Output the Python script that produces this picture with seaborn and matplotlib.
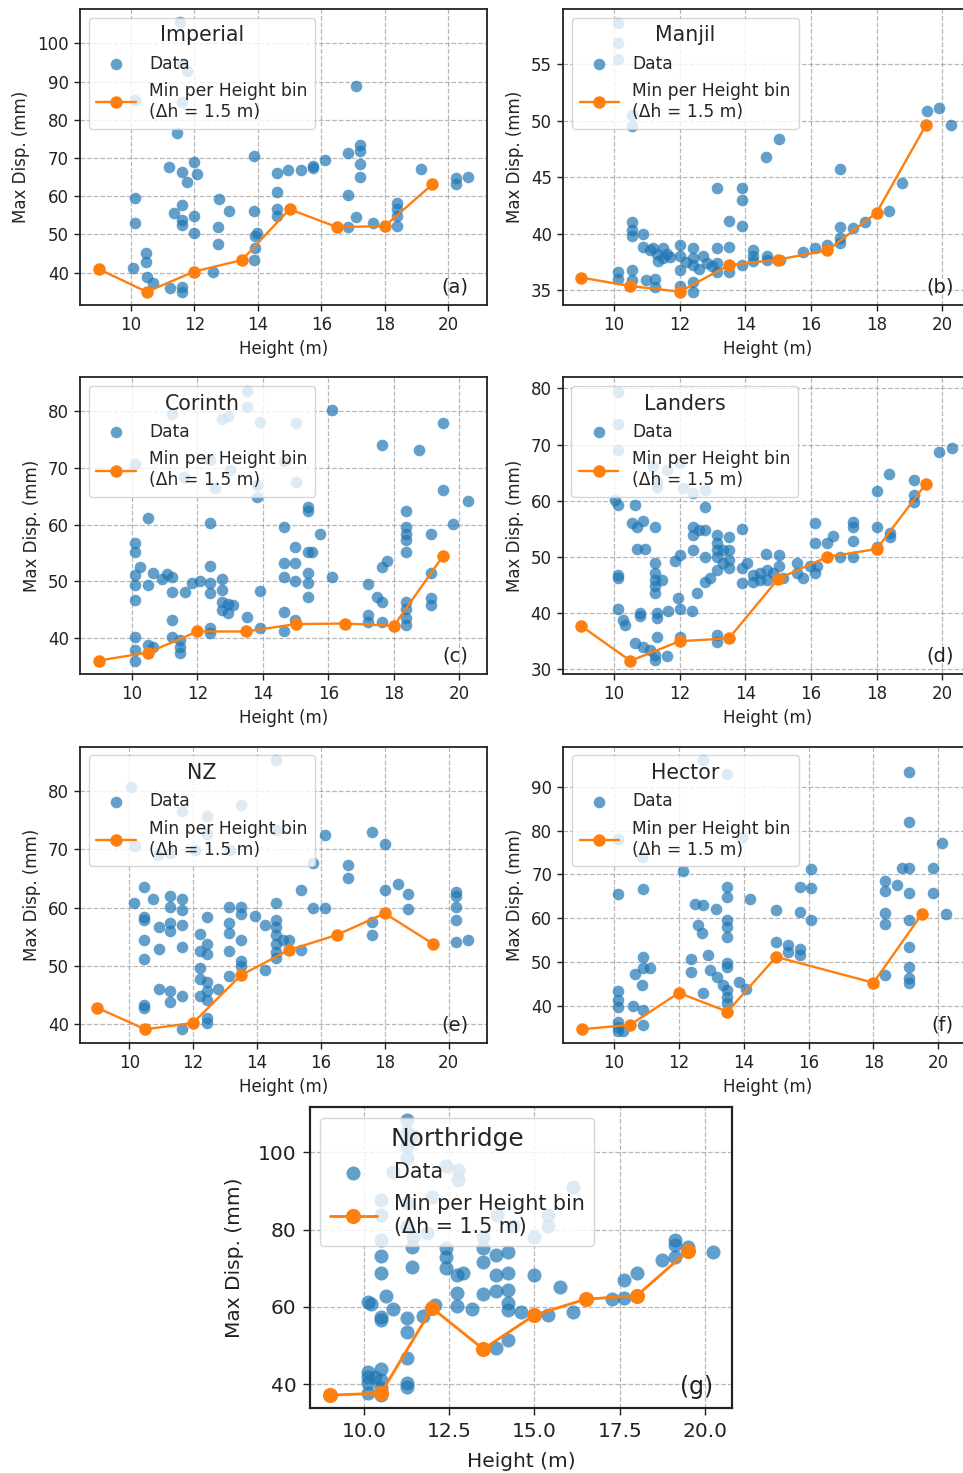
import matplotlib
matplotlib.use("Agg")
import matplotlib.pyplot as plt
import seaborn as sns
import pandas as pd

sns.set_theme(style="white")
plt.rcParams['font.family'] = ['DejaVu Sans']

# ---------------- data ----------------
BIN_H = [9.0, 10.5, 12.0, 13.5, 15.0, 16.5, 18.0, 19.5]
BIN_H_HECTOR = [9.0, 10.5, 12.0, 13.5, 15.0, 18.0, 19.5]

IMPERIAL_PTS = [(11.55, 105.7), (11.6, 94.8), (11.78, 92.8), (10.14, 85.2), (11.6, 84.7), (17.09, 88.8),
                (11.47, 76.5), (11.19, 67.7), (11.6, 66.4), (11.78, 63.6), (12.0, 69.0), (12.08, 65.8),
                (10.14, 59.5), (10.12, 52.9), (11.37, 55.5), (11.6, 57.7), (11.6, 53.8), (11.6, 52.5),
                (12.0, 54.8), (12.0, 50.3), (12.79, 59.3), (13.1, 56.1), (12.74, 52.0), (12.74, 47.4),
                (12.58, 40.3), (10.08, 41.2), (10.48, 45.1), (10.48, 42.9), (10.5, 39.0), (10.71, 37.4),
                (11.24, 35.9), (11.6, 36.2), (11.6, 35.0), (13.88, 70.5), (13.88, 56.2), (13.91, 49.6),
                (13.91, 46.4), (13.88, 43.3), (13.97, 50.3), (14.6, 66.0), (14.6, 61.0), (14.6, 56.6),
                (14.6, 54.8), (14.96, 66.9), (15.35, 66.9), (15.75, 68.0), (15.75, 67.3), (16.12, 69.5),
                (16.85, 71.2), (17.22, 73.4), (17.22, 71.7), (17.22, 68.4), (17.22, 65.0), (16.85, 60.3),
                (17.09, 54.5), (16.85, 52.0), (17.64, 53.1), (18.37, 58.2), (18.37, 56.6), (18.37, 54.8),
                (18.37, 52.2), (19.13, 67.1), (20.24, 64.7), (20.24, 63.1), (20.63, 64.9)]
IMPERIAL_MIN = [40.9, 35.0, 40.3, 43.3, 56.6, 51.9, 52.2, 63.1]

MANJIL_PTS = [(10.13, 58.7), (10.13, 56.9), (10.13, 55.5), (10.54, 50.5), (10.54, 49.5), (19.52, 50.9),
              (19.91, 51.1), (20.26, 49.6), (14.63, 46.8), (15.04, 48.4), (16.88, 45.7), (18.76, 44.5),
              (18.39, 42.0), (13.13, 44.0), (13.89, 44.0), (13.89, 43.0), (13.51, 41.1), (13.89, 40.7),
              (16.88, 40.6), (16.88, 39.6), (17.29, 40.5), (17.64, 41.0), (10.54, 41.0), (10.54, 40.3),
              (10.54, 39.8), (10.89, 40.0), (10.89, 38.8), (11.2, 38.7), (11.3, 38.2), (11.5, 38.7),
              (11.5, 37.8), (11.6, 38.2), (12.01, 39.0), (12.01, 38.0), (12.01, 36.8), (12.42, 38.7),
              (12.42, 37.8), (12.42, 37.2), (12.72, 38.0), (12.82, 37.4), (13.13, 38.7), (13.13, 37.4),
              (13.13, 36.6), (13.51, 38.8), (13.51, 36.6), (13.89, 37.2), (14.24, 38.5), (14.24, 38.0),
              (14.65, 38.0), (14.65, 37.7), (15.06, 37.7), (15.77, 38.4), (16.12, 38.7), (16.5, 39.0),
              (10.13, 36.6), (10.13, 36.0), (10.54, 36.8), (10.54, 35.9), (10.99, 35.9), (11.25, 36.0),
              (11.25, 35.3), (12.01, 35.35), (12.42, 35.7), (12.42, 34.8), (11.1, 38.5), (11.35, 37.6),
              (11.7, 37.9), (12.2, 37.5), (12.6, 36.9), (13.0, 37.1), (16.9, 39.2), (14.24, 37.6)]
MANJIL_MIN = [36.1, 35.35, 34.85, 37.2, 37.7, 38.5, 41.85, 49.6]

CORINTH_PTS = [(13.51, 83.5), (13.51, 80.6), (11.22, 79.5), (12.75, 78.5), (12.95, 79.0), (13.9, 78.1),
               (15.0, 77.8), (10.1, 70.6), (12.39, 71.3), (14.63, 71.2), (11.58, 68.4), (13.0, 69.6),
               (12.54, 66.4), (13.81, 66.9), (15.0, 67.5), (13.81, 64.9), (16.1, 80.1), (17.63, 74.0),
               (18.75, 73.1), (19.49, 77.8), (19.49, 66.1), (20.25, 64.1), (19.8, 60.1), (19.12, 58.3),
               (19.12, 51.4), (19.12, 47.0), (19.12, 45.9), (18.37, 62.3), (18.37, 59.6), (18.37, 58.4),
               (18.37, 57.3), (18.37, 55.2), (18.37, 46.4), (18.37, 45.1), (18.37, 43.5), (18.37, 42.3),
               (17.78, 53.6), (17.63, 52.6), (17.22, 49.5), (17.48, 47.3), (17.63, 46.4), (17.22, 44.1),
               (17.22, 42.8), (17.63, 42.8), (15.75, 58.4), (15.39, 63.1), (15.39, 62.3), (15.39, 55.1),
               (15.49, 55.1), (15.39, 51.4), (15.39, 49.7), (15.39, 47.3), (14.98, 56.1), (14.98, 53.3),
               (14.98, 50.1), (14.63, 59.6), (14.63, 53.2), (14.63, 50.7), (14.63, 44.7), (14.63, 41.2),
               (14.98, 43.2), (16.1, 50.8), (13.9, 48.4), (13.9, 41.8), (13.51, 43.8), (12.39, 60.3),
               (12.39, 52.7), (12.39, 49.7), (12.39, 47.9), (12.39, 41.8), (12.39, 40.9), (12.75, 50.5),
               (12.75, 48.5), (12.75, 46.4), (12.75, 45.0), (12.95, 46.1), (12.95, 44.4), (13.1, 45.9),
               (12.09, 50.1), (11.83, 49.8), (11.63, 48.2), (11.22, 48.2), (11.07, 51.3), (11.22, 50.8),
               (10.66, 51.4), (10.92, 50.4), (10.25, 52.6), (10.49, 49.4), (10.1, 56.7), (10.1, 55.2),
               (10.1, 51.1), (10.1, 49.4), (10.1, 46.7), (10.49, 61.2), (10.1, 40.3), (10.1, 38.0),
               (10.1, 36.1), (10.49, 38.8), (10.66, 38.5), (11.22, 43.2), (11.22, 40.3), (11.48, 39.7),
               (11.48, 38.5), (11.48, 37.4)]
CORINTH_MIN = [36.1, 37.5, 41.2, 41.2, 42.5, 42.6, 42.2, 54.5]

LANDERS_PTS = [(10.13, 79.4), (10.13, 73.6), (10.13, 69.0), (11.2, 66.1), (11.6, 65.5), (11.3, 63.4),
               (11.3, 62.5), (12.0, 66.7), (12.77, 61.9), (12.1, 62.2), (10.03, 60.1), (10.13, 59.2),
               (10.64, 59.2), (10.54, 56.0), (10.69, 55.4), (10.89, 56.4), (11.25, 55.4), (10.69, 51.4),
               (10.94, 51.4), (10.13, 46.8), (10.13, 46.2), (10.13, 40.7), (10.28, 38.8), (10.33, 37.9),
               (10.79, 40.1), (10.79, 39.5), (10.64, 34.6), (10.89, 34.0), (11.1, 33.4), (11.25, 32.5),
               (11.25, 31.7), (11.6, 32.4), (11.3, 35.7), (11.3, 39.1), (11.3, 40.0), (11.25, 48.9),
               (11.25, 47.1), (11.25, 45.9), (11.25, 44.8), (11.25, 43.6), (11.45, 45.8), (11.65, 40.3),
               (11.96, 42.6), (12.0, 40.7), (12.37, 40.4), (12.0, 35.8), (11.86, 49.3), (12.0, 50.3),
               (12.4, 61.4), (12.4, 55.4), (12.4, 53.9), (12.4, 51.2), (12.6, 54.8), (12.77, 58.9),
               (12.77, 54.8), (12.77, 50.0), (12.52, 43.6), (12.77, 45.6), (12.92, 46.2), (13.13, 53.9),
               (13.13, 52.4), (13.13, 51.2), (13.13, 49.9), (13.13, 47.7), (13.33, 51.2), (13.51, 53.6),
               (13.51, 51.2), (13.51, 49.5), (13.51, 48.0), (13.33, 48.9), (13.13, 36.1), (13.13, 34.9),
               (13.89, 54.9), (13.89, 48.0), (13.89, 45.3), (14.04, 48.9), (14.24, 46.8), (14.24, 45.6),
               (14.45, 47.1), (14.45, 45.9), (14.63, 50.6), (14.65, 47.7), (14.65, 45.9), (14.85, 47.1),
               (15.04, 50.3), (15.04, 48.3), (15.16, 46.2), (15.56, 48.9), (15.56, 47.1), (15.77, 46.2),
               (15.97, 48.3), (16.12, 47.1), (16.17, 48.3), (16.12, 56.1), (16.12, 52.5), (16.48, 52.4),
               (16.68, 53.8), (16.88, 50.0), (17.29, 56.2), (17.29, 55.4), (17.29, 52.9), (17.29, 49.9),
               (18.0, 61.8), (18.0, 55.3), (18.0, 51.8), (18.39, 64.8), (18.41, 54.2), (18.41, 53.6),
               (19.14, 63.6), (19.14, 61.0), (19.14, 59.8), (19.91, 68.7), (20.28, 69.3)]
LANDERS_MIN = [37.7, 31.5, 35.0, 35.5, 46.1, 50.0, 51.4, 63.0]

NZ_PTS = [(10.07, 80.7), (10.18, 70.6), (11.64, 76.5), (12.42, 75.7), (12.42, 72.7), (13.51, 77.6),
          (14.6, 85.3), (14.6, 73.3), (10.9, 69.0), (11.27, 69.3), (12.05, 69.9), (13.15, 69.9),
          (15.76, 67.6), (16.12, 72.4), (17.61, 73.0), (18.0, 70.9), (16.85, 67.3), (16.85, 65.1),
          (15.37, 63.0), (15.76, 59.9), (16.12, 59.9), (18.0, 63.0), (18.42, 64.0), (18.73, 62.3),
          (18.73, 59.7), (17.61, 57.6), (17.61, 55.3), (20.22, 62.6), (20.22, 61.9), (20.22, 60.1),
          (20.22, 57.9), (20.22, 54.0), (20.6, 54.4), (15.37, 52.7), (15.0, 54.4), (14.6, 60.7),
          (14.6, 57.9), (14.6, 56.7), (14.6, 55.3), (14.6, 53.8), (14.6, 52.4), (14.6, 51.3),
          (14.82, 54.4), (14.24, 57.0), (14.24, 49.3), (13.93, 58.5), (13.51, 60.1), (13.51, 58.9),
          (13.51, 54.4), (13.51, 50.9), (13.51, 49.9), (13.13, 60.1), (13.13, 57.4), (13.13, 55.7),
          (13.13, 52.6), (13.13, 48.2), (12.78, 46.0), (12.42, 58.4), (12.42, 53.8), (12.42, 52.1),
          (12.42, 47.3), (12.42, 45.6), (12.42, 44.1), (12.42, 41.0), (12.42, 40.1), (12.21, 55.5),
          (12.21, 52.6), (12.21, 49.6), (12.21, 47.8), (12.21, 44.8), (11.64, 61.4), (11.64, 59.6),
          (11.64, 57.0), (11.64, 53.3), (11.64, 44.8), (11.64, 39.1), (11.27, 62.0), (11.27, 60.1),
          (11.27, 57.3), (11.27, 55.9), (11.27, 45.6), (11.27, 43.8), (10.94, 46.1), (10.94, 56.7),
          (10.94, 52.8), (10.75, 61.4), (10.46, 63.6), (10.46, 58.4), (10.46, 57.9), (10.46, 54.5),
          (10.46, 51.1), (10.46, 43.3), (10.46, 42.7), (10.16, 60.7)]
NZ_MIN = [42.8, 39.1, 40.2, 48.4, 52.7, 55.3, 59.0, 53.8]

HECTOR_PTS = [(12.75, 96.1), (13.49, 92.8), (10.13, 78.0), (10.85, 74.0), (13.94, 78.6), (19.11, 93.4),
              (19.11, 82.0), (20.1, 77.1), (18.87, 71.4), (19.11, 71.4), (19.85, 71.4), (18.36, 68.6),
              (18.36, 66.1), (18.74, 67.6), (19.11, 65.7), (19.85, 65.7), (18.36, 61.1), (18.36, 58.8),
              (19.11, 59.6), (20.24, 61.0), (19.11, 53.4), (19.11, 49.0), (19.11, 46.3), (19.11, 45.3),
              (18.36, 47.1), (16.09, 71.2), (16.09, 67.0), (15.73, 67.2), (15.73, 61.5), (16.09, 59.6),
              (15.0, 61.9), (15.0, 54.7), (15.37, 53.9), (15.37, 52.4), (15.73, 53.1), (15.73, 51.6),
              (14.19, 64.3), (13.86, 45.5), (14.07, 43.8), (13.5, 67.2), (13.5, 64.9), (13.5, 59.6),
              (13.5, 58.1), (13.5, 55.8), (13.5, 49.9), (13.5, 49.0), (13.5, 43.6), (13.5, 42.1),
              (13.5, 40.6), (13.37, 44.8), (13.17, 46.7), (12.96, 48.2), (12.91, 51.6), (12.75, 42.9),
              (13.15, 62.0), (12.75, 63.0), (12.5, 63.2), (12.6, 58.5), (12.7, 56.7), (12.39, 50.6),
              (12.39, 47.8), (12.14, 70.8), (10.88, 66.6), (10.13, 65.5), (10.88, 51.1), (10.88, 48.6),
              (11.11, 48.6), (10.65, 47.4), (10.85, 44.8), (10.6, 40.0), (10.88, 39.2), (10.88, 35.7),
              (10.13, 43.5), (10.13, 41.4), (10.13, 39.8), (10.13, 36.4), (10.13, 35.3), (10.13, 34.4),
              (10.29, 34.4)]
HECTOR_MIN = [34.7, 35.7, 43.0, 38.7, 51.2, 45.3, 61.0]

NORTHRIDGE_PTS = [(11.25, 108.4), (11.25, 105.3), (11.25, 101.5), (11.25, 98.4), (11.45, 104.1),
                  (12.4, 96.3), (12.77, 95.4), (12.77, 92.8), (12.01, 88.5), (10.86, 95.0), (10.5, 87.7),
                  (10.5, 83.8), (11.25, 86.8), (11.25, 80.8), (11.84, 79.1), (11.45, 78.2), (10.5, 77.3),
                  (13.5, 78.2), (13.89, 83.8), (15.41, 83.8), (15.41, 80.8), (16.12, 90.9), (15.0, 78.2),
                  (14.38, 80.8), (10.5, 73.2), (10.5, 68.7), (10.64, 62.8), (10.13, 61.4), (10.22, 60.8),
                  (10.5, 57.5), (10.5, 56.5), (10.86, 59.4), (11.25, 57.1), (11.25, 53.6), (11.25, 46.7),
                  (11.25, 40.4), (11.25, 39.4), (11.4, 75.6), (11.4, 70.4), (11.72, 57.7), (12.08, 60.5),
                  (12.4, 75.2), (12.4, 73.0), (12.4, 70.0), (12.74, 68.3), (12.74, 63.7), (12.74, 60.3),
                  (12.91, 68.9), (13.16, 59.4), (13.5, 71.5), (13.5, 63.4), (13.5, 75.2), (13.87, 73.4),
                  (13.87, 68.3), (13.87, 64.0), (13.87, 49.3), (14.23, 74.3), (14.23, 68.7), (14.23, 64.4),
                  (14.23, 60.9), (14.23, 59.2), (14.23, 51.5), (14.62, 58.8), (15.0, 68.3), (15.41, 57.9),
                  (15.75, 65.1), (16.12, 58.8), (17.26, 62.0), (17.62, 67.0), (17.62, 62.2), (18.0, 68.7),
                  (18.73, 72.2), (19.12, 77.3), (19.12, 76.0), (19.12, 73.0), (19.51, 75.6), (20.24, 74.3),
                  (10.13, 43.3), (10.13, 42.0), (10.13, 40.3), (10.13, 37.7), (10.32, 42.0), (10.5, 43.9),
                  (10.5, 41.1), (10.5, 39.0), (10.5, 37.2)]
NORTHRIDGE_MIN = [37.2, 37.7, 59.7, 49.1, 57.9, 62.0, 62.9, 74.5]

PANELS = [
    # name, points, bin heights, bin minima, letter
    ("Imperial", IMPERIAL_PTS, BIN_H, IMPERIAL_MIN, "(a)"),
    ("Manjil", MANJIL_PTS, BIN_H, MANJIL_MIN, "(b)"),
    ("Corinth", CORINTH_PTS, BIN_H, CORINTH_MIN, "(c)"),
    ("Landers", LANDERS_PTS, BIN_H, LANDERS_MIN, "(d)"),
    ("NZ", NZ_PTS, BIN_H, NZ_MIN, "(e)"),
    ("Hector", HECTOR_PTS, BIN_H_HECTOR, HECTOR_MIN, "(f)"),
    ("Northridge", NORTHRIDGE_PTS, BIN_H, NORTHRIDGE_MIN, "(g)"),
]

# ---------------- layout (pixel boxes: left, top, right, bottom) ----------------
W, H = 963, 1473
LAYOUT = [
    dict(box=(80, 9, 487, 305), xlim=(8.40, 21.22), ylim=(31.55, 108.97), xt=[10, 12, 14, 16, 18, 20],
         yt=[40, 50, 60, 70, 80, 90, 100], sc=1.0),
    dict(box=(563.3, 9, 972, 305), xlim=(8.456, 20.906), ylim=(33.67, 59.9), xt=[10, 12, 14, 16, 18, 20],
         yt=[35, 40, 45, 50, 55], sc=1.0),
    dict(box=(80, 377.3, 487, 674), xlim=(8.42, 20.84), ylim=(33.73, 85.87), xt=[10, 12, 14, 16, 18, 20],
         yt=[40, 50, 60, 70, 80], sc=1.0),
    dict(box=(562.7, 377.3, 972, 674), xlim=(8.437, 20.904), ylim=(29.16, 81.96), xt=[10, 12, 14, 16, 18, 20],
         yt=[30, 40, 50, 60, 70, 80], sc=1.0),
    dict(box=(80, 746.7, 487, 1043.3), xlim=(8.46, 21.2), ylim=(36.7, 87.6), xt=[10, 12, 14, 16, 18, 20],
         yt=[40, 50, 60, 70, 80], sc=1.0),
    dict(box=(563.3, 746.7, 972, 1043.3), xlim=(8.437, 21.04), ylim=(31.5, 99.1), xt=[10, 12, 14, 16, 18, 20],
         yt=[40, 50, 60, 70, 80, 90], sc=1.0),
    dict(box=(310, 1107.3, 732.3, 1408.3), xlim=(8.42, 20.8), ylim=(33.8, 111.6),
         xt=[10.0, 12.5, 15.0, 17.5, 20.0], yt=[40, 60, 80, 100], sc=1.21),
]

BLUE = "#1f77b4"
ORANGE = "#ff7f0e"
INK = "#222222"

fig = plt.figure(figsize=(W / 100, H / 100), dpi=100)
fig.patch.set_facecolor("white")

for (name, pts, bh, bmin, letter), lay in zip(PANELS, LAYOUT):
    l, t, r, b = lay["box"]
    sc = lay["sc"]
    big = sc > 1.1
    ax = fig.add_axes([l / W, 1 - b / H, (r - l) / W, (b - t) / H])
    df = pd.DataFrame(pts, columns=["h", "d"])
    sns.scatterplot(data=df, x="h", y="d", ax=ax, color=BLUE, alpha=0.7, s=70 * sc ** 2,
                    linewidth=0, label="Data", zorder=3)
    sns.lineplot(x=bh, y=bmin, ax=ax, color=ORANGE, marker="o", markersize=9 * sc,
                 markeredgewidth=0, linewidth=1.7 * sc, estimator=None, sort=False,
                 label="Min per Height bin\n(\u0394h = 1.5 m)", zorder=4)
    ax.set_xlim(*lay["xlim"])
    ax.set_ylim(*lay["ylim"])
    ax.set_xticks(lay["xt"])
    ax.set_yticks(lay["yt"])
    if big:
        ax.set_xticklabels([f"{v:.1f}" for v in lay["xt"]])
    ax.grid(True, linestyle="--", color="#888888", alpha=0.6, linewidth=0.9)
    ax.set_axisbelow(True)
    ax.tick_params(axis="both", which="major", bottom=True, left=True, direction="out",
                   length=4 * sc, width=1.0, labelsize=12 * sc, colors=INK,
                   pad=5 if big else 4)
    for sp in ax.spines.values():
        sp.set_color(INK)
        sp.set_linewidth(1.3 * sc)
    ax.set_xlabel("Height (m)", fontsize=12 * sc, color=INK, labelpad=8 if big else 4)
    ax.set_ylabel("Max Disp. (mm)", fontsize=12 * sc, color=INK, labelpad=10 if big else 5)
    leg = ax.legend(loc="upper left", title=name, fontsize=12.3 * sc, title_fontsize=14.8 * sc,
                    framealpha=0.8, frameon=True, borderaxespad=0.5, handlelength=2.3,
                    labelspacing=0.55, borderpad=0.45)
    leg.get_frame().set_edgecolor("#cccccc")
    leg.set_zorder(10)
    ax.text(0.955, 0.03, letter, transform=ax.transAxes, ha="right", va="bottom",
            fontsize=14 * sc, color=INK, zorder=6)

fig.savefig("out.png", dpi=100, facecolor="white")
